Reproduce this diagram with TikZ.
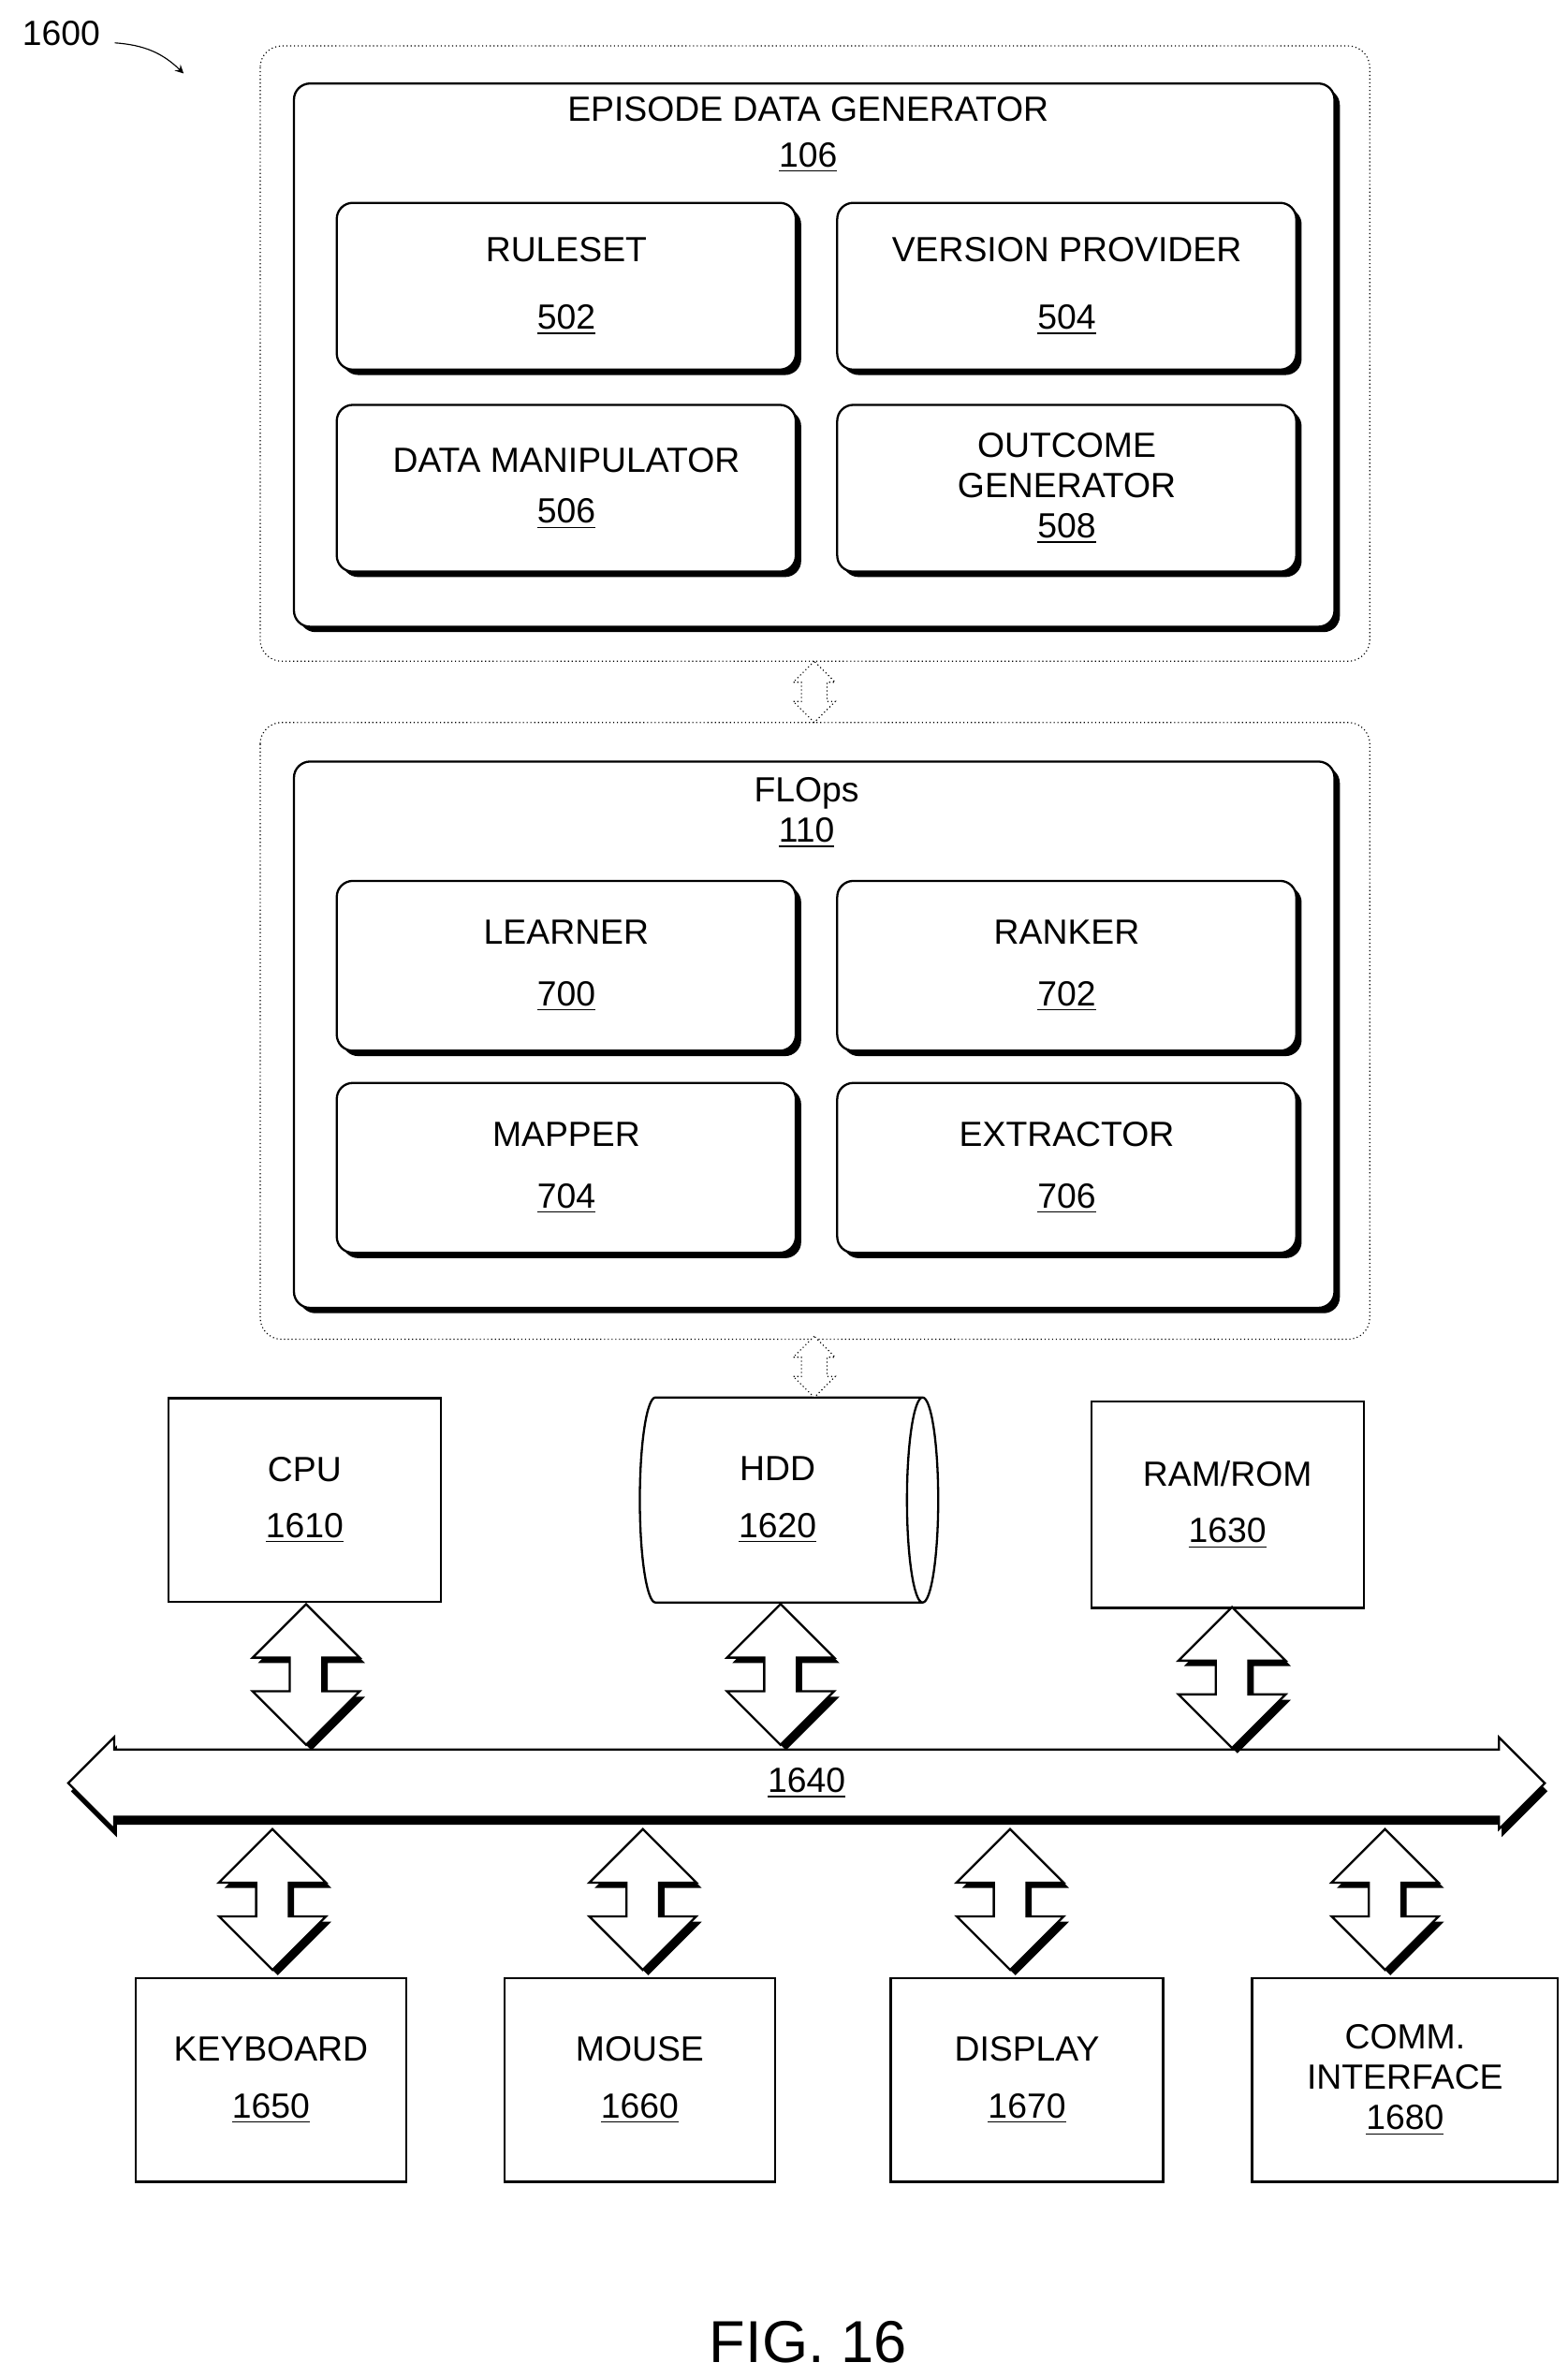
\documentclass[tikz,border=0pt]{standalone}
\usepackage{fontspec}
\setmainfont{Liberation Sans}
\usetikzlibrary{shapes.geometric,shapes.arrows,shadows,positioning}
\tikzset{font=\fontsize{13}{15}\selectfont}
\tikzstyle{box} = [draw, fill=white, thick, rounded corners=6pt, align=center,
  general shadow={shadow xshift=2pt, shadow yshift=-2pt, fill=black}]
\tikzstyle{sub} = [box, minimum width=6.0cm, minimum height=2.18cm]
\tikzstyle{hw} = [draw, thick, fill=white, minimum width=3.56cm, minimum height=2.66cm, align=center]
\tikzstyle{frame} = [draw, densely dotted, rounded corners=8pt]
\tikzstyle{link} = [draw, densely dotted, fill=white, double arrow, rotate=90, minimum height=0.8cm,
  minimum width=0.55cm, double arrow head extend=0.08cm]
\tikzstyle{port} = [draw, thick, fill=white, double arrow, rotate=90, minimum height=1.84cm,
  minimum width=1.4cm, double arrow head extend=0.3cm,
  general shadow={shadow xshift=2pt, shadow yshift=-2pt, fill=black}]
\begin{document}
\begin{tikzpicture}[x=0.02cm, y=-0.02cm]
    \useasboundingbox (0,0) rectangle (1024,1553);
    \node (fig) at (40,22) {1600};
    \draw [->, >=stealth] (75,28) to [bend left=20] (120,48);

    % episode data generator
    \draw [frame] (170,30) rectangle (895,432);
    \node [box, minimum width=13.6cm, minimum height=7.1cm] (edg) at (532,232) {};
    \node [align=center] at (528,88) {EPISODE DATA GENERATOR\\[2pt]\underline{106}};
    \node [sub] (ruleset) at (370,187) {RULESET\\[10pt]\underline{502}};
    \node [sub] (version) at (697,187) {VERSION PROVIDER\\[10pt]\underline{504}};
    \node [sub] (manip) at (370,319) {DATA MANIPULATOR\\[4pt]\underline{506}};
    \node [sub] (outcome) at (697,319) {OUTCOME\\GENERATOR\\\underline{508}};

    \node [link] (l1) at (532,452) {};

    % flops
    \draw [frame] (170,472) rectangle (895,875);
    \node [box, minimum width=13.6cm, minimum height=7.14cm] (flops) at (532,676) {};
    \node [align=center] at (527,531) {FLOps\\\underline{110}};
    \node [sub, minimum height=2.22cm] (learner) at (370,631) {LEARNER\\[8pt]\underline{700}};
    \node [sub, minimum height=2.22cm] (ranker) at (697,631) {RANKER\\[8pt]\underline{702}};
    \node [sub, minimum height=2.22cm] (mapper) at (370,763) {MAPPER\\[8pt]\underline{704}};
    \node [sub, minimum height=2.22cm] (extractor) at (697,763) {EXTRACTOR\\[8pt]\underline{706}};

    % hardware
    \node [hw] (cpu) at (199,980) {CPU\\[6pt]\underline{1610}};
    \node [draw, thick, fill=white, cylinder, shape aspect=0.3, minimum width=2.68cm,
      minimum height=3.9cm, align=center] (hdd) at (508,980) {HDD\\[6pt]\underline{1620}};
    \node [hw, minimum height=2.7cm] (ram) at (802,983) {RAM/ROM\\[6pt]\underline{1630}};

    \node [link] (l2) at (532,893) {};

    \node [draw, thick, fill=white, double arrow, minimum height=19.3cm, minimum width=1.2cm,
      double arrow head extend=0.12cm,
      general shadow={shadow xshift=1pt, shadow yshift=-3pt, fill=black}] (bus) at (527,1165) {\underline{1640}};

    \node [port] (p1) at (200,1094) {};
    \node [port] (p2) at (510,1094) {};
    \node [port] (p3) at (805,1096) {};
    \node [port] (p4) at (178,1241) {};
    \node [port] (p5) at (420,1241) {};
    \node [port] (p6) at (660,1241) {};
    \node [port] (p7) at (905,1241) {};

    \node [hw, minimum width=3.54cm] (kbd) at (177,1359) {KEYBOARD\\[6pt]\underline{1650}};
    \node [hw, minimum width=3.54cm] (mouse) at (418,1359) {MOUSE\\[6pt]\underline{1660}};
    \node [hw] (display) at (671,1359) {DISPLAY\\[6pt]\underline{1670}};
    \node [hw, minimum width=4.0cm] (comm) at (918,1359) {COMM.\\INTERFACE\\\underline{1680}};

    \node [font=\fontsize{22}{26}\selectfont] (caption) at (528,1530) {FIG. 16};
\end{tikzpicture}
\end{document}
